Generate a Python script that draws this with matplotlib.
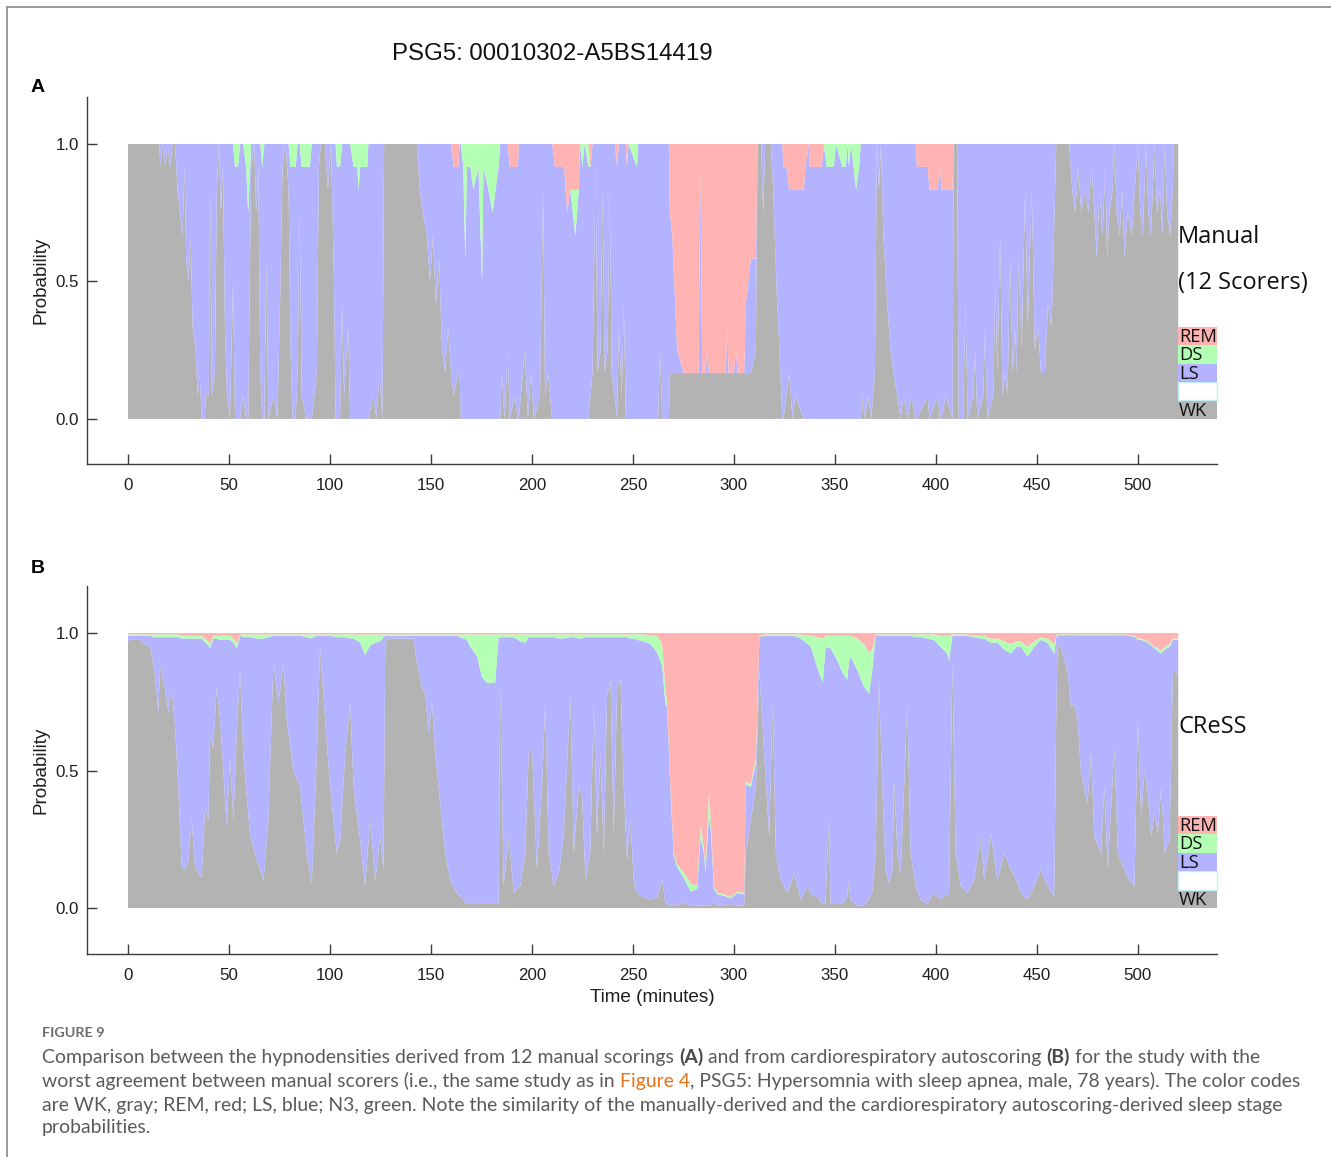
import matplotlib
matplotlib.use("Agg")
import matplotlib.pyplot as plt
from matplotlib.patches import Rectangle
from matplotlib.lines import Line2D

# ---------------------------------------------------------------------------
# Panel A: manual hypnodensity, number of the 12 scorers choosing each stage
# ---------------------------------------------------------------------------
t_a = [
    0.0, 15.5, 16.0, 17.0, 18.5, 19.5, 21.0, 22.0, 23.3, 24.5,
    25.8, 27.0, 28.0, 28.8, 30.0, 31.0, 32.0, 33.5, 34.5, 35.5,
    36.5, 38.0, 38.5, 40.0, 40.8, 41.5, 43.0, 44.0, 45.0, 46.0,
    47.0, 48.0, 49.0, 50.5, 52.0, 53.0, 54.5, 55.5, 57.0, 58.5,
    59.5, 61.0, 62.5, 63.5, 64.5, 65.5, 66.5, 67.5, 68.5, 69.5,
    72.0, 74.0, 75.5, 76.5, 78.0, 79.5, 80.5, 81.5, 83.0, 84.0,
    85.0, 86.0, 88.5, 90.0, 91.0, 93.5, 94.5, 95.5, 97.5, 99.0,
    100.5, 102.0, 102.8, 103.5, 105.0, 106.0, 107.0, 109.0, 110.0, 111.7,
    113.5, 114.2, 115.0, 118.5, 119.0, 121.5, 123.0, 124.5, 126.0, 126.8,
    143.0, 144.5, 146.0, 148.0, 149.5, 151.0, 152.5, 154.0, 155.5, 157.0,
    158.5, 160.0, 161.2, 163.5, 164.2, 164.8, 166.0, 167.0, 167.8, 169.5,
    171.0, 173.5, 175.3, 176.0, 178.5, 180.5, 182.0, 183.5, 184.3, 185.0,
    186.5, 188.0, 189.0, 191.5, 193.0, 193.5, 196.5, 198.0, 199.5, 201.0,
    204.0, 205.5, 206.5, 208.0, 210.0, 211.5, 216.0, 217.5, 219.0, 221.5,
    223.2, 223.8, 225.0, 226.0, 228.0, 229.0, 230.0, 231.5, 232.5, 234.0,
    235.0, 236.0, 237.5, 238.5, 239.5, 241.0, 242.2, 243.0, 244.5, 245.5,
    246.5, 247.0, 247.8, 252.0, 252.6, 262.5, 263.5, 264.5, 267.8, 268.3,
    269.5, 270.5, 271.9, 275.2, 282.5, 283.5, 284.3, 286.0, 286.8, 287.6,
    296.0, 296.7, 297.4, 300.0, 301.0, 301.8, 305.1, 305.9, 308.4, 310.9,
    311.7, 313.5, 314.5, 315.5, 318.3, 319.5, 321.0, 322.5, 324.0, 324.5,
    326.0, 327.4, 329.0, 330.5, 334.6, 335.5, 337.0, 337.6, 343.5, 344.5,
    346.0, 349.5, 350.5, 353.7, 355.4, 356.2, 357.0, 358.0, 360.5, 362.0,
    362.8, 363.5, 365.0, 366.5, 368.0, 369.8, 370.8, 371.8, 372.8, 374.0,
    376.0, 377.5, 379.0, 381.0, 382.5, 384.0, 386.0, 388.0, 390.0, 390.6,
    396.0, 396.8, 401.0, 402.0, 402.8, 405.0, 408.3, 408.8, 410.5, 411.3,
    413.5, 414.6, 415.8, 418.5, 419.5, 420.5, 423.5, 424.4, 425.5, 428.5,
    429.4, 430.5, 431.8, 433.0, 434.3, 435.5, 436.8, 438.0, 439.2, 440.0,
    440.9, 442.5, 444.2, 445.5, 447.5, 449.0, 450.7, 452.0, 454.0, 455.5,
    457.3, 458.5, 459.6, 466.0, 467.5, 469.0, 470.5, 472.0, 474.0, 475.5,
    477.0, 478.5, 479.7, 481.0, 482.5, 484.0, 484.8, 486.0, 487.5, 488.4,
    489.5, 491.0, 492.2, 493.4, 495.0, 497.0, 498.5, 500.0, 501.2, 502.5,
    504.0, 505.2, 506.5, 508.3, 509.5, 511.0, 512.2, 513.3, 514.5, 516.0,
    517.3, 517.8, 520.0,
]
wk_a = [
    12, 12, 11, 12, 11, 12, 11, 12, 12, 10,
    9, 8, 11, 7, 6, 8, 4, 3, 1, 2,
    0, 0, 1, 1, 10, 1, 2, 10, 12, 9,
    11, 4, 1, 0, 6, 0, 0, 0, 1, 0,
    0, 11, 12, 9, 11, 2, 0, 0, 7, 0,
    1, 0, 6, 11, 12, 10, 3, 0, 0, 2,
    9, 1, 0, 0, 0, 2, 11, 12, 12, 10,
    12, 6, 0, 0, 0, 5, 1, 4, 0, 0,
    0, 0, 0, 0, 0, 1, 0, 2, 0, 12,
    12, 10, 9, 8, 6, 8, 5, 7, 3, 2,
    4, 2, 1, 2, 2, 0, 0, 0, 0, 0,
    0, 0, 0, 0, 0, 0, 0, 0, 0, 2,
    0, 3, 0, 1, 0, 0, 3, 0, 2, 0,
    1, 10, 1, 2, 0, 0, 0, 0, 0, 0,
    0, 0, 0, 0, 0, 1, 2, 11, 2, 3,
    10, 2, 3, 10, 2, 1, 0, 4, 1, 5,
    0, 0, 0, 0, 0, 0, 3, 0, 0, 2,
    2, 2, 2, 2, 2, 2, 2, 2, 2, 2,
    2, 2, 2, 2, 2, 2, 2, 2, 2, 3,
    12, 12, 9, 12, 12, 10, 6, 3, 0, 0,
    1, 2, 0, 1, 0, 0, 0, 0, 0, 0,
    0, 0, 0, 0, 0, 0, 0, 0, 0, 0,
    0, 1, 0, 1, 0, 2, 12, 10, 12, 8,
    5, 3, 2, 1, 0, 1, 0, 1, 0, 0,
    1, 0, 1, 0, 0, 1, 0, 12, 12, 0,
    0, 5, 0, 1, 3, 0, 1, 4, 0, 1,
    6, 2, 8, 1, 2, 1, 7, 2, 4, 2,
    7, 3, 10, 4, 10, 3, 4, 2, 2, 5,
    4, 8, 12, 12, 10, 9, 11, 9, 10, 9,
    11, 9, 7, 10, 8, 11, 7, 9, 10, 12,
    9, 8, 10, 7, 9, 8, 10, 12, 9, 8,
    12, 9, 8, 12, 9, 10, 8, 12, 9, 8,
    10, 12, 12,
]
ls_a = [
    0, 0, 1, 0, 1, 0, 1, 0, 0, 2,
    3, 4, 1, 5, 6, 4, 8, 9, 11, 10,
    12, 12, 11, 11, 2, 11, 10, 2, 0, 3,
    1, 8, 11, 12, 6, 11, 11, 12, 11, 11,
    9, 1, 0, 3, 1, 10, 11, 12, 5, 12,
    11, 12, 6, 1, 0, 2, 8, 11, 11, 10,
    3, 10, 11, 11, 12, 10, 1, 0, 0, 2,
    0, 6, 12, 11, 11, 7, 11, 8, 12, 11,
    11, 10, 11, 11, 12, 11, 12, 10, 12, 0,
    0, 2, 3, 4, 6, 4, 7, 5, 9, 10,
    8, 10, 10, 9, 10, 12, 11, 7, 11, 11,
    10, 11, 6, 11, 10, 9, 10, 11, 12, 10,
    12, 9, 11, 10, 11, 12, 9, 12, 10, 12,
    11, 2, 11, 10, 12, 11, 11, 9, 10, 8,
    10, 12, 11, 12, 11, 10, 10, 1, 10, 9,
    2, 10, 9, 2, 10, 11, 11, 8, 11, 7,
    12, 11, 12, 11, 12, 12, 9, 12, 12, 7,
    6, 4, 1, 0, 0, 9, 0, 0, 1, 0,
    0, 2, 0, 0, 1, 0, 0, 3, 5, 4,
    0, 0, 3, 0, 0, 2, 6, 9, 12, 11,
    10, 8, 10, 9, 10, 11, 12, 11, 11, 12,
    11, 11, 12, 11, 11, 12, 11, 12, 10, 11,
    12, 11, 12, 11, 12, 10, 0, 2, 0, 4,
    7, 9, 10, 11, 12, 11, 12, 11, 12, 11,
    10, 10, 9, 11, 10, 9, 10, 0, 0, 12,
    12, 7, 12, 11, 9, 12, 11, 8, 12, 11,
    6, 10, 4, 11, 10, 11, 5, 10, 8, 10,
    5, 9, 2, 8, 2, 9, 8, 10, 10, 7,
    8, 4, 0, 0, 2, 3, 1, 3, 2, 3,
    1, 3, 5, 2, 4, 1, 5, 3, 2, 0,
    3, 4, 2, 5, 3, 4, 2, 0, 3, 4,
    0, 3, 4, 0, 3, 2, 4, 0, 3, 4,
    2, 0, 0,
]
ds_a = [
    0, 0, 0, 0, 0, 0, 0, 0, 0, 0,
    0, 0, 0, 0, 0, 0, 0, 0, 0, 0,
    0, 0, 0, 0, 0, 0, 0, 0, 0, 0,
    0, 0, 0, 0, 0, 1, 1, 0, 0, 1,
    3, 0, 0, 0, 0, 0, 1, 0, 0, 0,
    0, 0, 0, 0, 0, 0, 1, 1, 1, 0,
    0, 1, 1, 1, 0, 0, 0, 0, 0, 0,
    0, 0, 0, 1, 1, 0, 0, 0, 0, 1,
    1, 2, 1, 1, 0, 0, 0, 0, 0, 0,
    0, 0, 0, 0, 0, 0, 0, 0, 0, 0,
    0, 0, 0, 0, 0, 0, 1, 5, 1, 1,
    2, 1, 6, 1, 2, 3, 2, 1, 0, 0,
    0, 0, 0, 0, 0, 0, 0, 0, 0, 0,
    0, 0, 0, 0, 0, 0, 0, 0, 0, 2,
    0, 0, 1, 0, 1, 0, 0, 0, 0, 0,
    0, 0, 0, 0, 0, 0, 0, 0, 0, 0,
    0, 0, 0, 1, 0, 0, 0, 0, 0, 0,
    0, 0, 0, 0, 0, 0, 0, 0, 0, 0,
    0, 0, 0, 0, 0, 0, 0, 0, 0, 0,
    0, 0, 0, 0, 0, 0, 0, 0, 0, 0,
    0, 0, 0, 0, 0, 0, 0, 0, 0, 0,
    1, 1, 0, 1, 1, 0, 1, 0, 2, 1,
    0, 0, 0, 0, 0, 0, 0, 0, 0, 0,
    0, 0, 0, 0, 0, 0, 0, 0, 0, 0,
    0, 0, 0, 0, 0, 0, 0, 0, 0, 0,
    0, 0, 0, 0, 0, 0, 0, 0, 0, 0,
    0, 0, 0, 0, 0, 0, 0, 0, 0, 0,
    0, 0, 0, 0, 0, 0, 0, 0, 0, 0,
    0, 0, 0, 0, 0, 0, 0, 0, 0, 0,
    0, 0, 0, 0, 0, 0, 0, 0, 0, 0,
    0, 0, 0, 0, 0, 0, 0, 0, 0, 0,
    0, 0, 0, 0, 0, 0, 0, 0, 0, 0,
    0, 0, 0,
]
rem_a = [
    0, 0, 0, 0, 0, 0, 0, 0, 0, 0,
    0, 0, 0, 0, 0, 0, 0, 0, 0, 0,
    0, 0, 0, 0, 0, 0, 0, 0, 0, 0,
    0, 0, 0, 0, 0, 0, 0, 0, 0, 0,
    0, 0, 0, 0, 0, 0, 0, 0, 0, 0,
    0, 0, 0, 0, 0, 0, 0, 0, 0, 0,
    0, 0, 0, 0, 0, 0, 0, 0, 0, 0,
    0, 0, 0, 0, 0, 0, 0, 0, 0, 0,
    0, 0, 0, 0, 0, 0, 0, 0, 0, 0,
    0, 0, 0, 0, 0, 0, 0, 0, 0, 0,
    0, 0, 1, 1, 0, 0, 0, 0, 0, 0,
    0, 0, 0, 0, 0, 0, 0, 0, 0, 0,
    0, 0, 1, 1, 1, 0, 0, 0, 0, 0,
    0, 0, 0, 0, 0, 1, 1, 3, 2, 2,
    2, 0, 0, 0, 0, 1, 0, 0, 0, 0,
    0, 0, 0, 0, 0, 0, 1, 0, 0, 0,
    0, 1, 0, 0, 0, 0, 0, 0, 0, 3,
    4, 6, 9, 10, 10, 1, 10, 10, 9, 10,
    10, 8, 10, 10, 9, 10, 10, 7, 5, 5,
    0, 0, 0, 0, 0, 0, 0, 0, 0, 1,
    1, 2, 2, 2, 2, 1, 0, 1, 1, 0,
    0, 0, 0, 0, 0, 0, 0, 0, 0, 0,
    0, 0, 0, 0, 0, 0, 0, 0, 0, 0,
    0, 0, 0, 0, 0, 0, 0, 0, 0, 1,
    1, 2, 2, 1, 2, 2, 2, 0, 0, 0,
    0, 0, 0, 0, 0, 0, 0, 0, 0, 0,
    0, 0, 0, 0, 0, 0, 0, 0, 0, 0,
    0, 0, 0, 0, 0, 0, 0, 0, 0, 0,
    0, 0, 0, 0, 0, 0, 0, 0, 0, 0,
    0, 0, 0, 0, 0, 0, 0, 0, 0, 0,
    0, 0, 0, 0, 0, 0, 0, 0, 0, 0,
    0, 0, 0, 0, 0, 0, 0, 0, 0, 0,
    0, 0, 0,
]
N_SCORERS = 12

# ---------------------------------------------------------------------------
# Panel B: CReSS autoscoring stage probabilities
# ---------------------------------------------------------------------------
t_b = [
    0.0, 1.0, 5.9, 8.0, 10.9, 12.5, 14.0, 15.0, 15.9, 18.3,
    20.0, 21.6, 23.3, 24.9, 26.6, 28.2, 29.9, 31.5, 33.2, 36.5,
    38.2, 39.8, 40.6, 42.3, 43.9, 45.6, 47.2, 48.9, 50.5, 52.2,
    53.9, 55.5, 57.1, 60.5, 63.8, 67.1, 69.5, 72.0, 74.5, 77.0,
    78.6, 81.9, 85.2, 88.5, 91.0, 93.5, 95.1, 97.6, 100.1, 103.4,
    105.1, 107.5, 110.0, 111.7, 115.0, 117.4, 119.9, 122.4, 124.9, 126.5,
    127.4, 130.0, 141.4, 143.0, 145.5, 147.2, 148.8, 150.5, 152.1, 154.6,
    157.1, 159.6, 162.9, 167.8, 169.5, 172.8, 175.3, 177.7, 181.8, 183.5,
    184.3, 186.0, 188.5, 191.0, 194.2, 196.7, 198.4, 200.0, 202.5, 205.0,
    206.6, 208.3, 210.8, 213.3, 215.7, 219.0, 220.7, 223.2, 224.8, 226.5,
    228.9, 230.6, 232.2, 233.9, 235.6, 237.2, 238.9, 240.5, 242.2, 243.8,
    245.5, 247.1, 248.8, 250.4, 252.1, 255.4, 258.7, 262.0, 264.5, 266.1,
    266.9, 268.6, 270.2, 271.9, 275.2, 278.5, 281.8, 283.5, 285.1, 286.0,
    287.6, 288.5, 290.1, 291.8, 295.1, 298.4, 301.8, 305.1, 305.9, 308.4,
    310.9, 312.6, 315.0, 317.5, 319.2, 320.8, 323.3, 326.6, 329.9, 333.2,
    336.5, 338.2, 341.5, 344.0, 345.4, 347.0, 347.9, 351.2, 353.5, 356.1,
    356.9, 357.7, 361.1, 364.4, 366.9, 368.5, 370.2, 371.8, 373.5, 375.1,
    376.8, 378.5, 379.3, 381.0, 382.6, 385.9, 387.5, 390.0, 392.5, 395.8,
    399.1, 402.4, 405.7, 406.5, 408.2, 409.8, 412.3, 415.6, 418.9, 422.2,
    423.9, 427.2, 430.5, 433.8, 437.1, 440.0, 442.1, 445.4, 448.7, 452.0,
    455.3, 458.6, 459.6, 460.3, 461.9, 465.2, 466.9, 468.5, 470.2, 471.8,
    475.1, 476.8, 478.5, 481.8, 483.4, 485.1, 488.4, 490.1, 493.4, 495.9,
    498.3, 500.0, 501.7, 503.3, 505.0, 506.6, 508.3, 509.9, 511.6, 513.3,
    515.7, 517.4, 519.0, 520.0,
]
wk_b = [
    0.97, 0.975, 0.975, 0.96, 0.95, 0.89, 0.80, 0.71, 0.88, 0.80,
    0.71, 0.80, 0.66, 0.44, 0.15, 0.14, 0.175, 0.32, 0.15, 0.11,
    0.37, 0.32, 0.62, 0.585, 0.805, 0.685, 0.50, 0.295, 0.54, 0.32,
    0.65, 0.865, 0.56, 0.26, 0.175, 0.10, 0.32, 0.89, 0.745, 0.89,
    0.685, 0.50, 0.44, 0.20, 0.09, 0.56, 0.95, 0.685, 0.44, 0.20,
    0.245, 0.56, 0.745, 0.44, 0.245, 0.08, 0.32, 0.10, 0.26, 0.14,
    0.97, 0.98, 0.98, 0.895, 0.805, 0.78, 0.635, 0.745, 0.56, 0.38,
    0.20, 0.10, 0.055, 0.015, 0.015, 0.015, 0.015, 0.015, 0.015, 0.015,
    0.80, 0.08, 0.26, 0.055, 0.08, 0.20, 0.56, 0.585, 0.14, 0.44,
    0.745, 0.20, 0.08, 0.125, 0.26, 0.77, 0.20, 0.44, 0.415, 0.10,
    0.20, 0.745, 0.26, 0.56, 0.20, 0.77, 0.83, 0.26, 0.805, 0.83,
    0.44, 0.175, 0.32, 0.10, 0.055, 0.04, 0.03, 0.04, 0.10, 0.02,
    0.015, 0.01, 0.01, 0.01, 0.02, 0.01, 0.01, 0.01, 0.01, 0.01,
    0.01, 0.01, 0.02, 0.01, 0.01, 0.015, 0.01, 0.01, 0.20, 0.32,
    0.44, 0.865, 0.56, 0.26, 0.745, 0.20, 0.10, 0.055, 0.125, 0.03,
    0.08, 0.05, 0.04, 0.015, 0.015, 0.32, 0.015, 0.015, 0.015, 0.04,
    0.10, 0.03, 0.01, 0.01, 0.03, 0.06, 0.20, 0.83, 0.44, 0.14,
    0.09, 0.14, 0.465, 0.20, 0.125, 0.745, 0.20, 0.08, 0.03, 0.015,
    0.055, 0.03, 0.055, 0.04, 0.89, 0.20, 0.08, 0.055, 0.10, 0.26,
    0.10, 0.27, 0.10, 0.20, 0.14, 0.10, 0.055, 0.03, 0.08, 0.14,
    0.08, 0.04, 0.70, 0.96, 0.95, 0.865, 0.73, 0.745, 0.685, 0.50,
    0.38, 0.56, 0.26, 0.20, 0.44, 0.14, 0.585, 0.20, 0.14, 0.10,
    0.08, 0.685, 0.32, 0.50, 0.415, 0.26, 0.345, 0.27, 0.44, 0.20,
    0.245, 0.865, 0.855, 0.85,
]
ls_b = [
    0.02, 0.015, 0.015, 0.03, 0.04, 0.095, 0.185, 0.275, 0.105, 0.185,
    0.275, 0.185, 0.325, 0.545, 0.83, 0.84, 0.805, 0.66, 0.83, 0.87,
    0.595, 0.635, 0.325, 0.395, 0.175, 0.29, 0.475, 0.68, 0.435, 0.645,
    0.295, 0.125, 0.425, 0.725, 0.805, 0.88, 0.665, 0.10, 0.245, 0.10,
    0.305, 0.49, 0.55, 0.785, 0.89, 0.43, 0.04, 0.305, 0.55, 0.785,
    0.74, 0.425, 0.235, 0.54, 0.72, 0.84, 0.635, 0.865, 0.71, 0.845,
    0.02, 0.01, 0.01, 0.095, 0.185, 0.21, 0.355, 0.245, 0.43, 0.61,
    0.79, 0.89, 0.935, 0.96, 0.935, 0.90, 0.825, 0.805, 0.805, 0.97,
    0.185, 0.905, 0.725, 0.93, 0.89, 0.765, 0.425, 0.40, 0.845, 0.545,
    0.24, 0.785, 0.905, 0.855, 0.72, 0.215, 0.785, 0.54, 0.565, 0.885,
    0.785, 0.24, 0.725, 0.425, 0.785, 0.215, 0.155, 0.725, 0.18, 0.155,
    0.545, 0.81, 0.66, 0.88, 0.92, 0.93, 0.93, 0.89, 0.78, 0.72,
    0.72, 0.42, 0.18, 0.14, 0.09, 0.05, 0.06, 0.25, 0.19, 0.12,
    0.33, 0.28, 0.05, 0.04, 0.035, 0.02, 0.045, 0.04, 0.25, 0.12,
    0.09, 0.12, 0.43, 0.73, 0.245, 0.79, 0.89, 0.935, 0.865, 0.95,
    0.88, 0.90, 0.83, 0.805, 0.935, 0.625, 0.93, 0.885, 0.845, 0.79,
    0.79, 0.885, 0.855, 0.795, 0.75, 0.805, 0.79, 0.16, 0.55, 0.85,
    0.90, 0.85, 0.525, 0.79, 0.865, 0.245, 0.79, 0.905, 0.955, 0.965,
    0.92, 0.92, 0.87, 0.86, 0.10, 0.79, 0.91, 0.935, 0.885, 0.72,
    0.88, 0.695, 0.865, 0.74, 0.785, 0.85, 0.895, 0.885, 0.87, 0.835,
    0.885, 0.885, 0.285, 0.032, 0.042, 0.127, 0.262, 0.247, 0.307, 0.492,
    0.612, 0.432, 0.732, 0.792, 0.552, 0.852, 0.407, 0.792, 0.852, 0.889,
    0.907, 0.29, 0.655, 0.47, 0.55, 0.695, 0.60, 0.665, 0.485, 0.74,
    0.705, 0.11, 0.12, 0.125,
]
ds_b = [
    0.005, 0.005, 0.005, 0.005, 0.005, 0.01, 0.01, 0.01, 0.01, 0.01,
    0.01, 0.01, 0.01, 0.01, 0.01, 0.01, 0.01, 0.01, 0.01, 0.01,
    0.015, 0.015, 0.015, 0.01, 0.01, 0.015, 0.015, 0.015, 0.015, 0.015,
    0.015, 0.005, 0.01, 0.01, 0.015, 0.015, 0.01, 0.005, 0.005, 0.005,
    0.005, 0.005, 0.005, 0.01, 0.015, 0.005, 0.005, 0.005, 0.005, 0.01,
    0.01, 0.01, 0.015, 0.015, 0.03, 0.075, 0.04, 0.03, 0.025, 0.01,
    0.005, 0.005, 0.005, 0.005, 0.005, 0.005, 0.005, 0.005, 0.005, 0.005,
    0.005, 0.005, 0.005, 0.02, 0.045, 0.08, 0.155, 0.175, 0.175, 0.01,
    0.01, 0.01, 0.01, 0.01, 0.025, 0.03, 0.01, 0.01, 0.01, 0.01,
    0.01, 0.01, 0.01, 0.015, 0.015, 0.01, 0.01, 0.015, 0.015, 0.01,
    0.01, 0.01, 0.01, 0.01, 0.01, 0.01, 0.01, 0.01, 0.01, 0.01,
    0.01, 0.01, 0.015, 0.015, 0.02, 0.025, 0.03, 0.06, 0.08, 0.06,
    0.02, 0.01, 0.01, 0.01, 0.02, 0.03, 0.01, 0.04, 0.02, 0.01,
    0.08, 0.03, 0.01, 0.005, 0.005, 0.005, 0.005, 0.005, 0.01, 0.01,
    0.02, 0.005, 0.005, 0.005, 0.005, 0.005, 0.005, 0.005, 0.005, 0.015,
    0.03, 0.04, 0.115, 0.16, 0.04, 0.045, 0.045, 0.09, 0.13, 0.16,
    0.10, 0.075, 0.115, 0.155, 0.15, 0.075, 0.005, 0.005, 0.005, 0.005,
    0.005, 0.005, 0.005, 0.005, 0.005, 0.005, 0.005, 0.01, 0.01, 0.015,
    0.02, 0.04, 0.065, 0.09, 0.005, 0.005, 0.005, 0.005, 0.005, 0.01,
    0.01, 0.015, 0.015, 0.03, 0.035, 0.02, 0.02, 0.035, 0.02, 0.01,
    0.015, 0.035, 0.005, 0.003, 0.003, 0.003, 0.003, 0.003, 0.003, 0.003,
    0.003, 0.003, 0.003, 0.003, 0.003, 0.003, 0.003, 0.003, 0.003, 0.003,
    0.003, 0.005, 0.005, 0.005, 0.005, 0.005, 0.005, 0.01, 0.01, 0.01,
    0.01, 0.005, 0.005, 0.005,
]
rem_b = [
    0.005, 0.005, 0.005, 0.005, 0.005, 0.005, 0.005, 0.005, 0.005, 0.005,
    0.005, 0.005, 0.005, 0.005, 0.01, 0.01, 0.01, 0.01, 0.01, 0.01,
    0.02, 0.03, 0.04, 0.01, 0.01, 0.01, 0.01, 0.01, 0.01, 0.02,
    0.04, 0.005, 0.005, 0.005, 0.005, 0.005, 0.005, 0.005, 0.005, 0.005,
    0.005, 0.005, 0.005, 0.005, 0.005, 0.005, 0.005, 0.005, 0.005, 0.005,
    0.005, 0.005, 0.005, 0.005, 0.005, 0.005, 0.005, 0.005, 0.005, 0.005,
    0.005, 0.005, 0.005, 0.005, 0.005, 0.005, 0.005, 0.005, 0.005, 0.005,
    0.005, 0.005, 0.005, 0.005, 0.005, 0.005, 0.005, 0.005, 0.005, 0.005,
    0.005, 0.005, 0.005, 0.005, 0.005, 0.005, 0.005, 0.005, 0.005, 0.005,
    0.005, 0.005, 0.005, 0.005, 0.005, 0.005, 0.005, 0.005, 0.005, 0.005,
    0.005, 0.005, 0.005, 0.005, 0.005, 0.005, 0.005, 0.005, 0.005, 0.005,
    0.005, 0.005, 0.005, 0.005, 0.005, 0.005, 0.01, 0.01, 0.04, 0.20,
    0.245, 0.56, 0.80, 0.84, 0.87, 0.91, 0.92, 0.70, 0.78, 0.86,
    0.58, 0.68, 0.92, 0.945, 0.95, 0.96, 0.94, 0.945, 0.54, 0.55,
    0.45, 0.01, 0.005, 0.005, 0.005, 0.005, 0.005, 0.005, 0.005, 0.005,
    0.01, 0.01, 0.015, 0.02, 0.01, 0.01, 0.01, 0.01, 0.01, 0.01,
    0.01, 0.01, 0.02, 0.04, 0.07, 0.06, 0.005, 0.005, 0.005, 0.005,
    0.005, 0.005, 0.005, 0.005, 0.005, 0.005, 0.005, 0.005, 0.005, 0.005,
    0.005, 0.01, 0.01, 0.01, 0.005, 0.005, 0.005, 0.005, 0.01, 0.01,
    0.01, 0.02, 0.02, 0.03, 0.04, 0.03, 0.03, 0.05, 0.03, 0.015,
    0.02, 0.04, 0.01, 0.005, 0.005, 0.005, 0.005, 0.005, 0.005, 0.005,
    0.005, 0.005, 0.005, 0.005, 0.005, 0.005, 0.005, 0.005, 0.005, 0.008,
    0.01, 0.02, 0.02, 0.025, 0.03, 0.04, 0.05, 0.055, 0.065, 0.05,
    0.04, 0.02, 0.02, 0.02,
]

stage_names = ["WK", "LS", "DS", "REM"]
stage_colors = ["#b3b3b3", "#b3b3ff", "#b3ffb3", "#ffb3b3"]
x_ticks = [0, 50, 100, 150, 200, 250, 300, 350, 400, 450, 500]
y_ticks = [0.0, 0.5, 1.0]
y_tick_labels = ["0.0", "0.5", "1.0"]

W, H = 1331, 1157
fig = plt.figure(figsize=(W / 100, H / 100), dpi=100)
fig.patch.set_facecolor("white")

SANS = ["Liberation Sans", "DejaVu Sans"]
SIDE = ["Open Sans", "DejaVu Sans"]
CAP = ["Lato", "DejaVu Sans"]
AXIS_COLOR = "#3c3c3c"


def axes_px(left, top, right, bottom):
    return fig.add_axes([left / W, 1 - bottom / H, (right - left) / W, (bottom - top) / H])


def style(ax, ylow, yhigh):
    ax.set_xlim(-20.3, 539.2)
    ax.set_ylim(ylow, yhigh)
    ax.set_facecolor("none")
    for s in ("top", "right"):
        ax.spines[s].set_visible(False)
    for s in ("left", "bottom"):
        ax.spines[s].set_color(AXIS_COLOR)
        ax.spines[s].set_linewidth(1.0)
    ax.set_xticks(x_ticks)
    ax.set_yticks(y_ticks)
    ax.set_yticklabels(y_tick_labels)
    ax.tick_params(direction="in", length=7.5, width=1.0, color=AXIS_COLOR,
                   labelsize=12.2, labelcolor="#1e1e1e")
    ax.tick_params(axis="x", pad=10)
    ax.tick_params(axis="y", pad=6)
    for lab in ax.get_xticklabels() + ax.get_yticklabels():
        lab.set_family(SANS)
    ax.set_ylabel("Probability", fontsize=13.6, family=SANS, color="#1e1e1e")
    ax.yaxis.set_label_coords(-0.0336, 0.5)


def legend_boxes(ax):
    slot = 0.067
    entries = [("WK", stage_colors[0]), ("", "white"), ("LS", stage_colors[1]),
               ("DS", stage_colors[2]), ("REM", stage_colors[3])]
    for i, (lab, col) in enumerate(entries):
        edge = "#c4eef0" if lab == "" else "none"
        ax.add_patch(Rectangle((520, i * slot), 19.2, slot, facecolor=col,
                               edgecolor=edge, linewidth=1.0, clip_on=False, zorder=3))
        if lab:
            ax.text(520.3, i * slot + slot / 2 - 0.003, lab, fontsize=13.2, family=SIDE,
                    va="center", ha="left", color="#111111", clip_on=False, zorder=4)


def hypnodensity(ax, t, series):
    ax.stackplot(t, *series, colors=stage_colors, linewidth=0, antialiased=True)


ax_a = axes_px(87, 97, 1217, 464)
ax_b = axes_px(87, 586, 1217, 954)

style(ax_a, -0.164, 1.171)
style(ax_b, -0.167, 1.171)

hypnodensity(ax_a, t_a, [[v / N_SCORERS for v in s] for s in (wk_a, ls_a, ds_a, rem_a)])
hypnodensity(ax_b, t_b, [wk_b, ls_b, ds_b, rem_b])

legend_boxes(ax_a)
legend_boxes(ax_b)

SIDE_SIZE = 17
ax_a.text(520.0, 0.66, "Manual", fontsize=SIDE_SIZE, family=SIDE, va="center", ha="left",
          color="#111111", clip_on=False)
ax_a.text(520.0, 0.495, "(12 Scorers)", fontsize=SIDE_SIZE, family=SIDE, va="center", ha="left",
          color="#111111", clip_on=False)
ax_b.text(520.0, 0.66, "CReSS", fontsize=SIDE_SIZE, family=SIDE, va="center", ha="left",
          color="#111111", clip_on=False)

fig.text(552 / W, 1 - 54 / H, "PSG5: 00010302-A5BS14419", fontsize=17.3, family=SANS,
         ha="center", va="center", color="#111111")
fig.text(38 / W, 1 - 87 / H, "A", fontsize=14, weight="bold", family=SANS, ha="center", va="center")
fig.text(38 / W, 1 - 568 / H, "B", fontsize=14, weight="bold", family=SANS, ha="center", va="center")
fig.text(652 / W, 1 - 997 / H, "Time (minutes)", fontsize=13.6, family=SANS,
         ha="center", va="center", color="#1e1e1e")

# page frame (left and top rules)
fig.add_artist(Line2D([7 / W, 7 / W], [0, 1 - 7 / H], transform=fig.transFigure,
                      color="#9a9a9a", linewidth=1.4))
fig.add_artist(Line2D([7 / W, 1], [1 - 7 / H, 1 - 7 / H], transform=fig.transFigure,
                      color="#9a9a9a", linewidth=1.4))

# ---------------------------------------------------------------------------
# caption with mixed styling
# ---------------------------------------------------------------------------
renderer = fig.canvas.get_renderer()
CAP_COLOR = "#5a5a5c"
ORANGE = "#e8741c"


def width_of(s, **kw):
    t = fig.text(0, 0, s, **kw)
    w = t.get_window_extent(renderer).width
    t.remove()
    return w


caption_lines = [
    [("Comparison between the hypnodensities derived from 12 manual scorings", "n", False),
     ("(A)", "b", True), ("and from cardiorespiratory autoscoring", "n", True),
     ("(B)", "b", True), ("for the study with the", "n", True)],
    [("worst agreement between manual scorers (i.e., the same study as in", "n", False),
     ("Figure 4", "o", True),
     (", PSG5: Hypersomnia with sleep apnea, male, 78 years). The color codes", "n", False)],
    [("are WK, gray; REM, red; LS, blue; N3, green. Note the similarity of the manually-derived "
      "and the cardiorespiratory autoscoring-derived sleep stage", "n", False)],
    [("probabilities.", "n", False)],
]

base = 12.0
probe = width_of("worst agreement between manual scorers (i.e., the same study as in Figure 4, "
                 "PSG5: Hypersomnia with sleep apnea, male, 78 years). The color codes",
                 fontsize=base, family=CAP)
cap_size = base * (1257.0 / probe)
space_w = width_of("a a", fontsize=cap_size, family=CAP) - width_of("aa", fontsize=cap_size, family=CAP)

fig.text(42 / W, 1 - 1033 / H, "FIGURE 9", fontsize=10.4, family=CAP, weight="bold",
         color="#6e6e70", ha="left", va="center")

line_y = [1057, 1081, 1105, 1128]
for runs, ypx in zip(caption_lines, line_y):
    x = 42.0
    for txt, kind, lead_space in runs:
        if lead_space:
            x += space_w
        kw = dict(fontsize=cap_size, family=CAP, ha="left", va="center")
        if kind == "b":
            kw.update(weight="bold", color="#4a4a4c")
        elif kind == "o":
            kw.update(color=ORANGE)
        else:
            kw.update(color=CAP_COLOR)
        t = fig.text(x / W, 1 - ypx / H, txt, **kw)
        x += t.get_window_extent(renderer).width

fig.savefig("out.png", dpi=100, facecolor="white")
